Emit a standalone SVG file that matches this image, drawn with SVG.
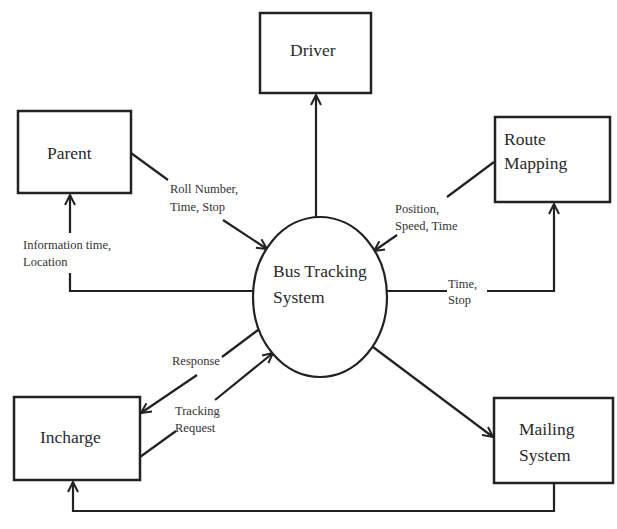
<svg xmlns="http://www.w3.org/2000/svg" width="617" height="529" viewBox="0 0 617 529">
<style>
.box{fill:#fff;stroke:#222;stroke-width:2.5}
.line{fill:none;stroke:#222;stroke-width:2.2}
.t{font-family:"Liberation Serif","Times New Roman",serif;font-size:17.5px;fill:#2a2a2a}
.s{font-family:"Liberation Serif","Times New Roman",serif;font-size:12.5px;fill:#333}
</style>
<defs>
<marker id="arr" viewBox="0 0 12 12" refX="11" refY="6" markerWidth="12" markerHeight="12" markerUnits="userSpaceOnUse" orient="auto">
<path d="M1,1 L11,6 L1,11" fill="none" stroke="#222" stroke-width="2"/>
</marker>
</defs>
<rect width="617" height="529" fill="#fff"/>
<g id="connectors">
<line class="line" x1="316" y1="217" x2="316" y2="95" marker-end="url(#arr)"/>
<line class="line" x1="131" y1="153" x2="168" y2="180"/>
<line class="line" x1="223" y1="220" x2="267" y2="249" marker-end="url(#arr)"/>
<polyline class="line" points="253,291 70,291 70,273"/>
<line class="line" x1="70" y1="233" x2="70" y2="195" marker-end="url(#arr)"/>
<line class="line" x1="494" y1="162" x2="447" y2="197"/>
<line class="line" x1="397" y1="235" x2="374" y2="251" marker-end="url(#arr)"/>
<line class="line" x1="387" y1="291" x2="447" y2="291"/>
<polyline class="line" points="487,291 554,291 554,204" marker-end="url(#arr)"/>
<line class="line" x1="373" y1="347" x2="493" y2="437" marker-end="url(#arr)"/>
<polyline class="line" points="554,484 554,511 73,511 73,482" marker-end="url(#arr)"/>
<line class="line" x1="258" y1="330" x2="222" y2="357"/>
<line class="line" x1="197" y1="375" x2="141" y2="413" marker-end="url(#arr)"/>
<line class="line" x1="140" y1="457" x2="176" y2="431"/>
<line class="line" x1="215" y1="400" x2="273" y2="353" marker-end="url(#arr)"/>
<text class="s" x="170" y="193">Roll Number,</text>
<text class="s" x="170" y="211">Time, Stop</text>
<text class="s" x="23" y="249">Information time,</text>
<text class="s" x="23" y="266">Location</text>
<text class="s" x="395" y="213">Position,</text>
<text class="s" x="395" y="230">Speed, Time</text>
<text class="s" x="448" y="288">Time,</text>
<text class="s" x="448" y="304">Stop</text>
<text class="s" x="172" y="365">Response</text>
<text class="s" x="175" y="415">Tracking</text>
<text class="s" x="175" y="432">Request</text>
</g>
<g id="driver">
<rect class="box" x="260" y="13" width="111" height="80"/>
<text class="t" x="290" y="56">Driver</text>
</g>
<g id="parent">
<rect class="box" x="18" y="111" width="113" height="82"/>
<text class="t" x="47" y="159">Parent</text>
</g>
<g id="route-mapping">
<rect class="box" x="495" y="117" width="115" height="85"/>
<text class="t" x="504" y="145">Route</text>
<text class="t" x="504" y="169">Mapping</text>
</g>
<g id="bus-tracking-system">
<ellipse cx="320" cy="297" rx="67" ry="80" fill="#fff" stroke="#222" stroke-width="2.2"/>
<text class="t" x="273" y="277">Bus Tracking</text>
<text class="t" x="273" y="303">System</text>
</g>
<g id="incharge">
<rect class="box" x="14" y="397" width="126" height="83"/>
<text class="t" x="40" y="443">Incharge</text>
</g>
<g id="mailing-system">
<rect class="box" x="494" y="398" width="119" height="85"/>
<text class="t" x="519" y="435">Mailing</text>
<text class="t" x="519" y="461">System</text>
</g>
</svg>
